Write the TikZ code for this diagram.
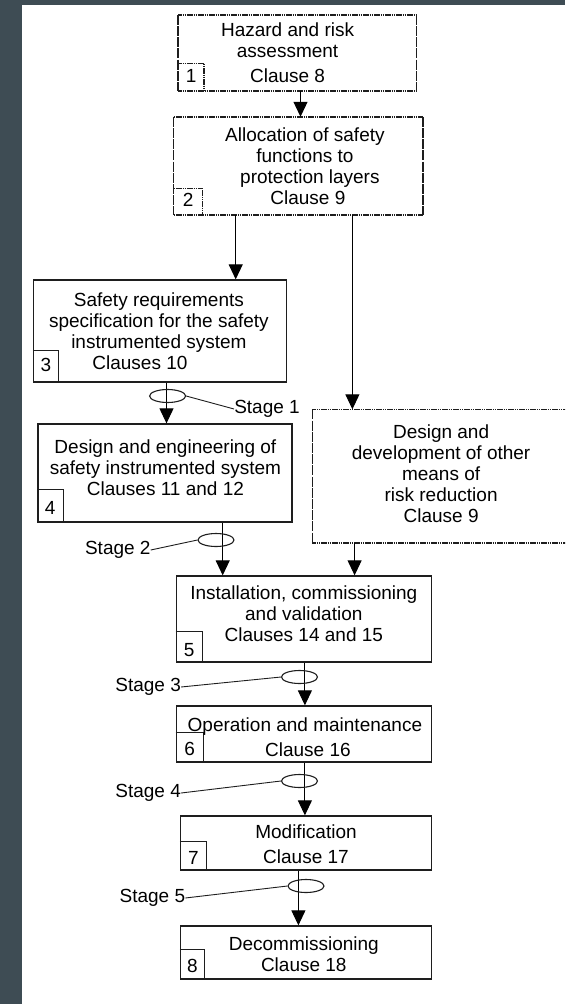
\documentclass[tikz,border=0pt]{standalone}
\usepackage{fontspec}
\setmainfont{Liberation Sans}
\usetikzlibrary{arrows.meta,shapes.geometric,calc}

\definecolor{frame}{RGB}{62,76,84}
\definecolor{ink}{RGB}{30,30,30}

\begin{document}
\begin{tikzpicture}[x=1pt,y=-1pt,
  every node/.style={font=\fontsize{19}{21}\selectfont, text=black, inner sep=0pt},
  solidbox/.style={draw=ink, line width=1.3pt, rectangle, inner sep=0pt},
  dotbox/.style={rectangle, inner sep=0pt},
  hdot/.style={draw=ink, line width=1.6pt, dash pattern=on 1.6pt off 0.6pt},
  vdash/.style={draw=ink, line width=1.4pt, dash pattern=on 10pt off 1.2pt},
  numline/.style={draw=ink, line width=1.1pt},
  numdot/.style={draw=ink, line width=1.3pt, dash pattern=on 1.6pt off 0.6pt},
  txt/.style={align=center},
  arr/.style={draw=black, line width=1pt, -{Triangle[width=14pt,length=15pt]}},
  stageel/.style={ellipse, draw=ink, line width=1.1pt, minimum width=36pt, minimum height=13pt, inner sep=0pt},
  lead/.style={draw=ink, line width=0.9pt}
]
\useasboundingbox (0,0) rectangle (565,1004);
\clip (0,0) rectangle (565,1004);

% page background with dark edge strips
\fill[frame] (0,0) rectangle (565,1004);
\fill[white] (22,5) rectangle (565,1004);

% ---- boxes ----
\node[dotbox, minimum width=238pt, minimum height=76pt] (b1) at (297.3,53) {};
\node[dotbox, minimum width=249pt, minimum height=98pt] (b2) at (298.4,166) {};
\node[solidbox, minimum width=253pt, minimum height=102pt] (b3) at (160,331) {};
\node[solidbox, minimum width=254pt, minimum height=98pt] (b4) at (164.9,473) {};
\node[dotbox, minimum width=290pt, minimum height=133pt] (bR) at (457.4,476) {};
\node[solidbox, minimum width=255pt, minimum height=86pt] (b5) at (303.8,619) {};
\node[solidbox, minimum width=255pt, minimum height=56pt] (b6) at (303.8,734) {};
\node[solidbox, minimum width=251pt, minimum height=54pt] (b7) at (306,843) {};
\node[solidbox, minimum width=251pt, minimum height=53pt] (b8) at (306,952.5) {};

% dotted outlines: dotted top and bottom edges, broken side edges
\foreach \b in {b1,b2,bR}{
  \draw[hdot] (\b.north west) -- (\b.north east);
  \draw[hdot] (\b.south west) -- (\b.south east);
  \draw[vdash] (\b.north west) -- (\b.south west);
  \draw[vdash] (\b.north east) -- (\b.south east);
}

% ---- number tabs ----
\draw[numdot] ($(b1.south west)+(0,-28)$) -| ($(b1.south west)+(26,0)$);
\node (n1) at ($(b1.south west)+(13,-15)$) {1};
\draw[numdot] ($(b2.south west)+(0,-27)$) -| ($(b2.south west)+(29,0)$);
\node (n2) at ($(b2.south west)+(14.5,-15)$) {2};
\draw[numline] ($(b3.south west)+(0,-32)$) -| ($(b3.south west)+(26,0)$);
\node (n3) at ($(b3.south west)+(13,-18)$) {3};
\draw[numline] ($(b4.south west)+(0,-33)$) -| ($(b4.south west)+(26,0)$);
\node (n4) at ($(b4.south west)+(13,-15)$) {4};
\draw[numline] ($(b5.south west)+(0,-31)$) -| ($(b5.south west)+(27,0)$);
\node (n5) at ($(b5.south west)+(13.5,-13)$) {5};
\draw[numline] ($(b6.south west)+(0,-30)$) -| ($(b6.south west)+(28,0)$);
\node (n6) at ($(b6.south west)+(14,-14)$) {6};
\draw[numline] ($(b7.south west)+(0,-29)$) -| ($(b7.south west)+(27,0)$);
\node (n7) at ($(b7.south west)+(13.5,-13)$) {7};
\draw[numline] ($(b8.south west)+(0,-30)$) -| ($(b8.south west)+(25,0)$);
\node (n8) at ($(b8.south west)+(12.5,-14)$) {8};

% ---- box texts ----
\node[txt] (t1) at (287.6,53) {Hazard and risk\\assessment\\[4pt]Clause 8};
\node[txt] (t2) at (304.9,166) {Allocation of safety\\functions to\\\hspace*{10pt}protection layers\\\hspace*{6pt}Clause 9};
\node[txt] (t3) at (158.9,331) {Safety requirements\\specification for the safety\\instrumented system\\Clauses 10\hspace*{38pt}};
\node[txt] (t4) at (165.4,467.5) {Design and engineering of\\safety instrumented system\\Clauses 11 and 12};
\node[txt] (tR) at (441.1,474) {Design and\\development of other\\means of\\risk reduction\\Clause 9};
\node[txt] (t5) at (303.8,613.5) {Installation, commissioning\\and validation\\Clauses 14 and 15};
\node[txt] (t6) at (304.9,737.5) {Operation and maintenance\\[4pt]\hspace*{6pt}Clause 16};
\node[txt] (t7) at (306,844.5) {Modification\\[4pt]Clause 17};
\node[txt] (t8) at (303.8,954.5) {Decommissioning\\Clause 18};

% ---- flow arrows ----
\draw[arr] (b1.south -| 300.5,0) -- (b2.north -| 300.5,0);
\draw[arr] (b2.south -| 235.7,0) -- (b3.north -| 235.7,0);
\draw[arr] (b2.south -| 352.4,0) -- (bR.north -| 352.4,0);
\draw[arr] (b3.south -| 166.5,0) -- (b4.north -| 166.5,0);
\draw[arr] (b4.south -| 222.7,0) -- (b5.north -| 222.7,0);
\draw[arr] (bR.south -| 354.6,0) -- (b5.north -| 354.6,0);
\draw[arr] (b5.south -| 304.9,0) -- (b6.north -| 304.9,0);
\draw[arr] (b6.south -| 304.9,0) -- (b7.north -| 304.9,0);
\draw[arr] (b7.south -| 298.4,0) -- (b8.north -| 298.4,0);

% ---- stage markers ----
\node[stageel] (e1) at (167.6,396) {};
\node (s1) at (267,409) {Stage 1};
\draw[lead] (e1.east) -- (s1.west);

\node[stageel] (e2) at (216,540) {};
\node (s2) at (117.8,550) {Stage 2};
\draw[lead] (e2.west) -- (s2.east);

\node[stageel] (e3) at (299.5,677) {};
\node (s3) at (148.1,687) {Stage 3};
\draw[lead] (e3.west) -- (s3.east);

\node[stageel] (e4) at (299.5,781) {};
\node (s4) at (148.1,793) {Stage 4};
\draw[lead] (e4.west) -- (s4.east);

\node[stageel] (e5) at (306,886) {};
\node (s5) at (152.4,898) {Stage 5};
\draw[lead] (e5.west) -- (s5.east);
\end{tikzpicture}
\end{document}
